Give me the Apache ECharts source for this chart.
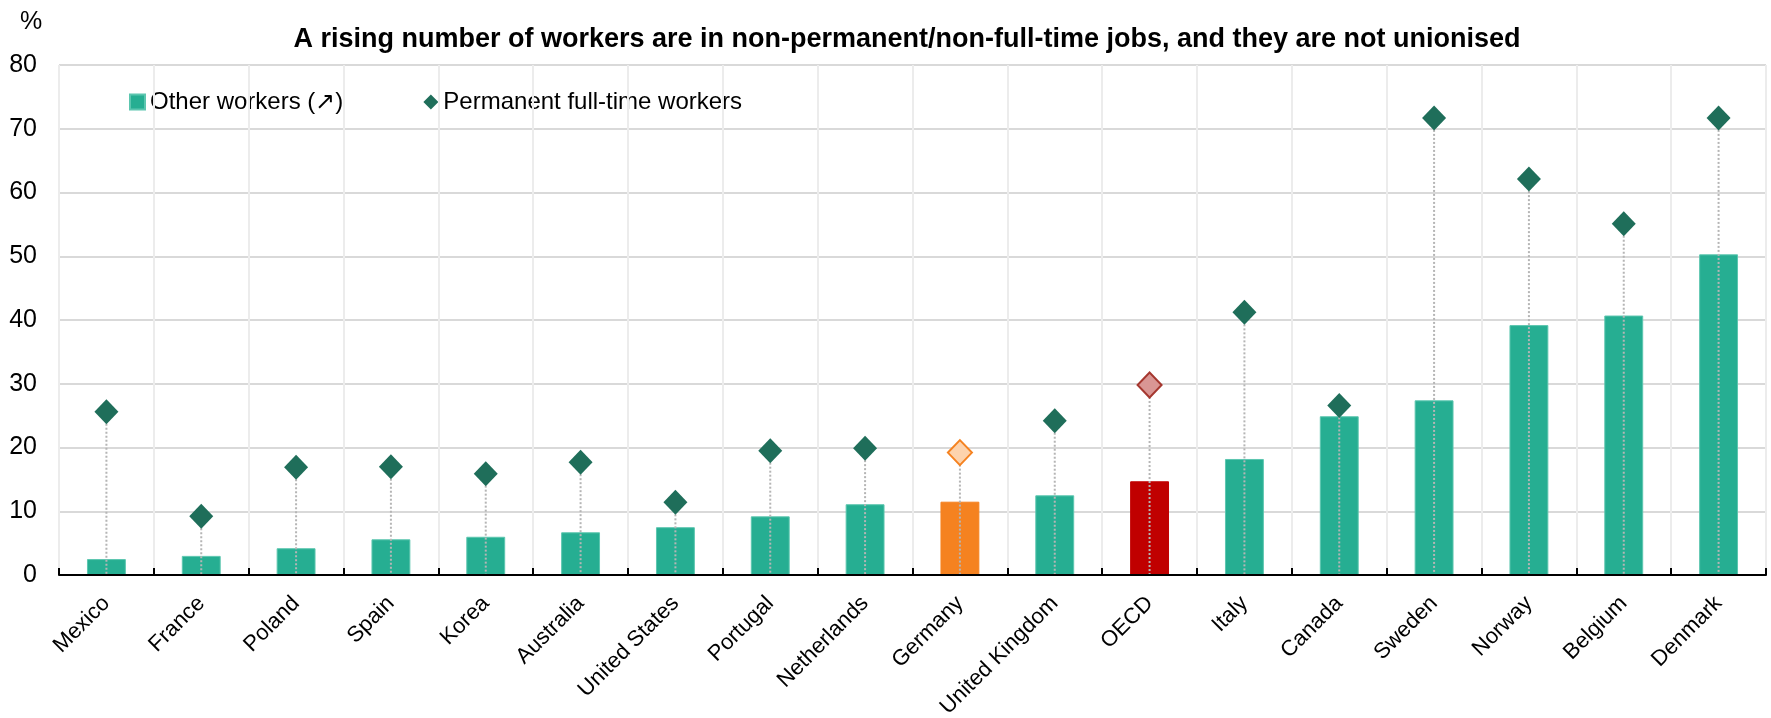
<!DOCTYPE html>
<html>
<head>
<meta charset="utf-8">
<script src="https://cdn.jsdelivr.net/npm/echarts@6/dist/echarts.min.js"></script>
<style>
html,body{margin:0;padding:0;background:#fff;}
#chart{width:1771px;height:718px;}
</style>
</head>
<body>
<div id="chart"></div>
<script>
const titleText = 'A rising number of workers are in non-permanent/non-full-time jobs, and they are not unionised';
const categories = ['Mexico','France','Poland','Spain','Korea','Australia','United States','Portugal','Netherlands','Germany','United Kingdom','OECD','Italy','Canada','Sweden','Norway','Belgium','Denmark'];
const otherWorkers = [2.5, 3.0, 4.2, 5.6, 6.0, 6.7, 7.5, 9.2, 11.1, 11.5, 12.5, 14.7, 18.2, 24.9, 27.4, 39.2, 40.7, 50.3];
const permanentFullTime = [25.6, 9.2, 16.9, 17.0, 15.9, 17.7, 11.4, 19.5, 19.9, 19.2, 24.2, 29.8, 41.2, 26.6, 71.7, 62.1, 55.1, 71.7];
const yTicks = [0, 10, 20, 30, 40, 50, 60, 70, 80];
const legendNames = ['Other workers (\u2197)', 'Permanent full-time workers'];

const FONT = '"Liberation Sans", Arial, sans-serif';
const barColor = '#26ae92';
const dotColor = '#1f6e5a';
const special = {
  'Germany': {bar: '#f58220', dot: '#fdd3ad', border: '#f58220'},
  'OECD': {bar: '#c00000', dot: '#d99694', border: '#a5372f'}
};

const barData = categories.map((c, i) => {
  const s = special[c];
  return s ? {value: otherWorkers[i], itemStyle: {color: s.bar, borderColor: s.bar}} : otherWorkers[i];
});
const dotData = categories.map((c, i) => {
  const s = special[c];
  return s ? {value: permanentFullTime[i], itemStyle: {color: s.dot, borderColor: s.border, borderWidth: 2}} : permanentFullTime[i];
});
const dropData = categories.map((c, i) => [i, permanentFullTime[i]]);

const chart = echarts.init(document.getElementById('chart'), null, {renderer: 'canvas'});
chart.setOption({
  animation: false,
  backgroundColor: '#fff',
  textStyle: {fontFamily: FONT},
  title: {
    text: titleText,
    left: 902, textAlign: 'center', top: 21,
    textStyle: {fontFamily: FONT, fontSize: 27, fontWeight: 'bold', color: '#000'}
  },
  graphic: [{
    type: 'text', left: 20, top: 10,
    style: {text: '%', font: '25px ' + FONT, fill: '#000'}
  }],
  legend: {
    left: 124, top: 85,
    itemWidth: 15, itemHeight: 15, itemGap: 80,
    textStyle: {fontFamily: FONT, fontSize: 24, color: '#000'},
    data: [
      {name: legendNames[0], icon: 'rect'},
      {name: legendNames[1], icon: 'diamond'}
    ]
  },
  grid: {left: 59, right: 5, top: 65, bottom: 143, containLabel: false, outerBoundsMode: 'none'},
  xAxis: {
    type: 'category',
    data: categories,
    boundaryGap: true,
    axisLine: {show: true, lineStyle: {color: '#000', width: 2}},
    axisTick: {show: true, inside: true, length: 7, lineStyle: {color: '#000', width: 2}, alignWithLabel: false},
    splitLine: {show: true, lineStyle: {color: '#ececec', width: 2}},
    axisLabel: {
      interval: 0, rotate: 45, margin: 25,
      fontFamily: FONT, fontSize: 22, color: '#000'
    },
    z: 5
  },
  yAxis: {
    type: 'value',
    min: yTicks[0], max: yTicks[yTicks.length - 1], interval: 10,
    axisLine: {show: false},
    axisTick: {show: false},
    splitLine: {show: true, lineStyle: {color: '#d9d9d9', width: 2}},
    axisLabel: {fontFamily: FONT, fontSize: 25, color: '#000', margin: 22}
  },
  series: [
    {
      name: legendNames[0],
      type: 'bar',
      data: barData,
      barWidth: '41%',
      itemStyle: {color: barColor, borderColor: '#5cc6af', borderWidth: 1},
      z: 2
    },
    {
      name: 'drop',
      type: 'custom',
      silent: true,
      data: dropData,
      renderItem: function (params, api) {
        const x = api.value(0);
        const top = api.coord([x, api.value(1)]);
        const bot = api.coord([x, 0]);
        return {
          type: 'line',
          shape: {x1: top[0], y1: top[1], x2: bot[0], y2: bot[1]},
          style: {stroke: '#b5b5b5', lineWidth: 2, lineDash: [2, 2]}
        };
      },
      z: 3
    },
    {
      name: legendNames[1],
      type: 'scatter',
      data: dotData,
      symbol: 'diamond',
      symbolSize: [24, 25],
      itemStyle: {color: dotColor, opacity: 1},
      z: 4
    }
  ]
});
</script>
</body>
</html>
